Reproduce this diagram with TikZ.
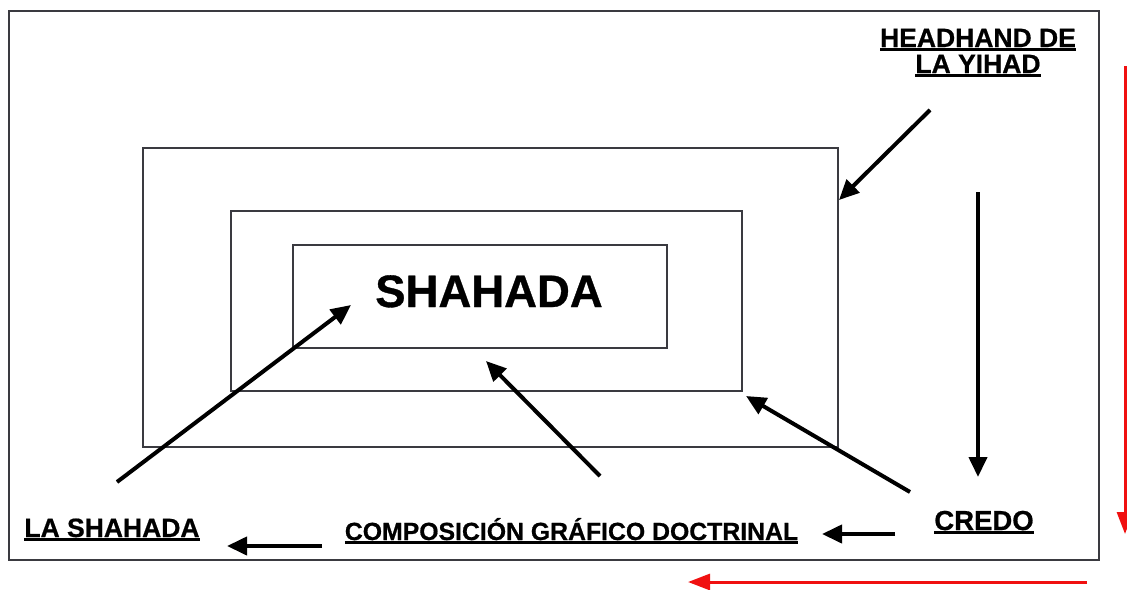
\documentclass[tikz,border=0pt]{standalone}
\usepackage{fontspec}
\setmainfont{Liberation Sans}[BoldFeatures={FakeBold=0.7}]
\usetikzlibrary{arrows.meta}
\definecolor{frameg}{HTML}{3A3A40}
\definecolor{redar}{HTML}{F01010}
\newcommand\ulbox[1]{\setbox0\hbox{#1}\rlap{\rule[-4pt]{\wd0}{2.6pt}}\box0}
\tikzset{
  boxline/.style={draw=frameg, line width=2pt},
  blkarrow/.style={draw=black, line width=4pt, -{Triangle[length=20pt,width=18pt]}},
  redarrow/.style={draw=redar, line width=3pt, -{Triangle[length=22pt,width=16pt]}},
  lbl/.style={font=\bfseries, inner sep=0pt, anchor=base},
}
\begin{document}
\begin{tikzpicture}[x=1pt,y=-1pt]
\useasboundingbox[fill=white] (0,0) rectangle (1127,589);
% frame and rectangles
\draw[boxline] (9,11) rectangle (1099,560);
\node[boxline, minimum width=695pt, minimum height=299pt, inner sep=0pt] (r1) at (490.5,297.5) {};
\node[boxline, minimum width=511pt, minimum height=180pt, inner sep=0pt] (r2) at (486.5,301) {};
\node[boxline, minimum width=374pt, minimum height=103pt, inner sep=0pt] (r3) at (480,296.5) {};
\node[lbl, font=\fontsize{45.5}{48}\selectfont\bfseries] (sh) at (489,307) {SHAHADA};
% labels
\node[lbl, font=\fontsize{26.5}{30}\selectfont\bfseries] (hd1) at (978,47) {\ulbox{HEADHAND DE}};
\node[lbl, font=\fontsize{26.5}{30}\selectfont\bfseries] (hd2) at (978,73) {\ulbox{LA YIHAD}};
\node[lbl, font=\fontsize{27.5}{30}\selectfont\bfseries] (cr) at (984,530) {\ulbox{CREDO}};
\node[lbl, font=\fontsize{24.8}{28}\selectfont\bfseries] (comp) at (571.5,540) {\ulbox{COMPOSICIÓN GRÁFICO DOCTRINAL}};
\node[lbl, font=\fontsize{26.5}{30}\selectfont\bfseries] (las) at (112,537) {\ulbox{LA SHAHADA}};
% arrow end points
\coordinate (a1s) at (930,110); \coordinate (a1e) at (839,200);
\coordinate (a2s) at (978,192); \coordinate (a2e) at (978,477);
\coordinate (a3s) at (910,492); \coordinate (a3e) at (746,396);
\coordinate (a4s) at (600,476); \coordinate (a4e) at (486,361);
\coordinate (a5s) at (117,482); \coordinate (a5e) at (351,305);
\coordinate (a6s) at (895,534); \coordinate (a6e) at (822,534);
\coordinate (a7s) at (322,546); \coordinate (a7e) at (227,546);
\coordinate (rvs) at (1125,66); \coordinate (rve) at (1125,534);
\coordinate (rhs) at (1087,582); \coordinate (rhe) at (688,582);
\draw[blkarrow] (a1s) -- (a1e);
\draw[blkarrow] (a2s) -- (a2e);
\draw[blkarrow] (a3s) -- (a3e);
\draw[blkarrow] (a4s) -- (a4e);
\draw[blkarrow] (a5s) -- (a5e);
\draw[blkarrow] (a6s) -- (a6e);
\draw[blkarrow] (a7s) -- (a7e);
\draw[redarrow] (rvs) -- (rve);
\draw[redarrow] (rhs) -- (rhe);
\end{tikzpicture}
\end{document}
